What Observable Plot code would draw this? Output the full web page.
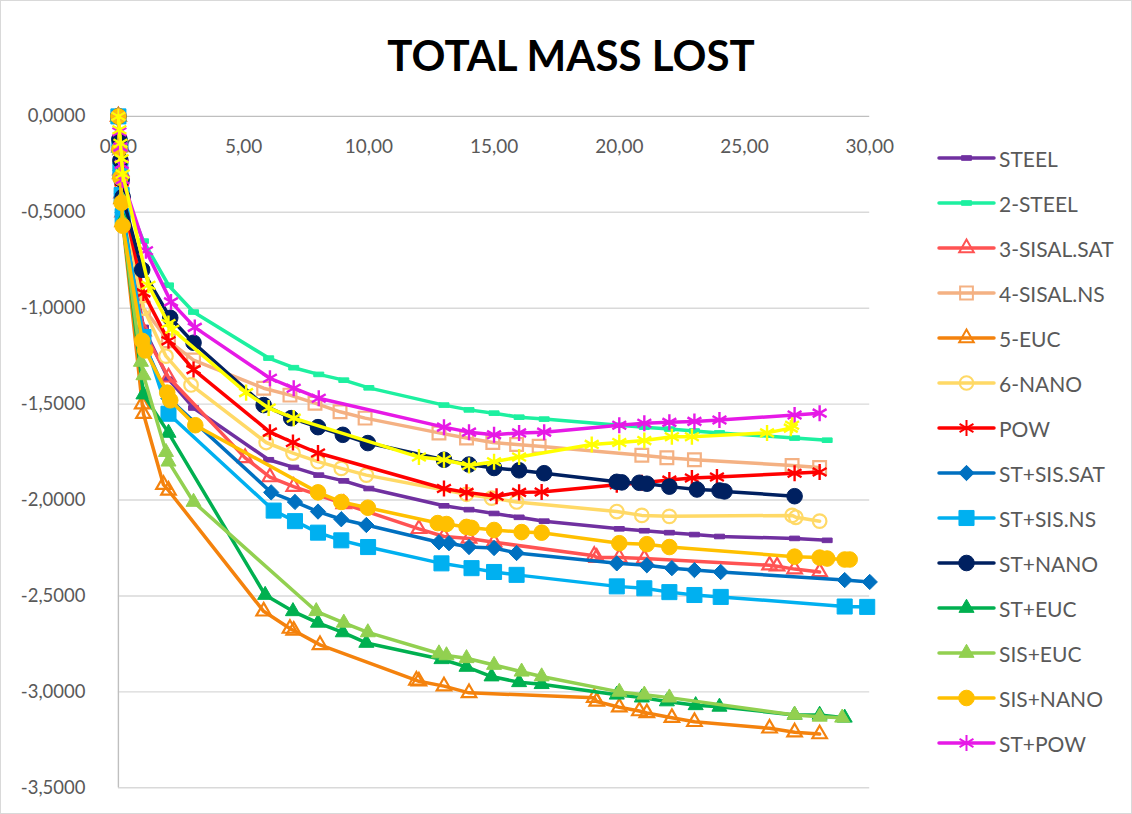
<!DOCTYPE html>
<html>
<head>
<meta charset="utf-8">
<script src="https://cdn.jsdelivr.net/npm/d3@7"></script>
<script src="https://cdn.jsdelivr.net/npm/@observablehq/plot@0.6"></script>
<style>
  body { margin: 0; background: #fff; }
  #chart { position: relative; width: 1132px; height: 814px; box-sizing: border-box; border: 1px solid #d9d9d9; overflow: hidden; font-family: Lato, sans-serif; background: #fff; }
  #title { position: absolute; left: 0; width: 1140px; top: 33px; text-align: center; font-weight: bold; font-size: 42px; line-height: 42px; color: #000; }
  #plot { position: absolute; left: -1px; top: -1px; }
  .lg { position: absolute; left: 935px; height: 30px; display: flex; align-items: center; }
  .lg span { font-size: 21px; color: #595959; margin-left: 1px; white-space: nowrap; }
</style>
</head>
<body>
<div id="chart">
  <div id="plot"></div>
  <div id="title">TOTAL MASS LOST</div>
</div>
<script>
// ---------- DATA (x = days, y = mass lost) ----------
const xTicks = [0, 5, 10, 15, 20, 25, 30];
const yTicks = [0, -0.5, -1, -1.5, -2, -2.5, -3, -3.5];

const STEEL = [[0,0],[0.04,-0.15],[0.08,-0.28],[0.13,-0.4],[0.17,-0.5],[1,-1.1],[2,-1.37],[3,-1.52],[6,-1.79],[7,-1.83],[8,-1.87],[9,-1.9],[10,-1.94],[13,-2.03],[14,-2.05],[15,-2.07],[16,-2.09],[17,-2.11],[20,-2.15],[21,-2.16],[22,-2.17],[23,-2.18],[24,-2.19],[27,-2.2],[28.3,-2.21]];
const STEEL2 = [[0,0],[0.04,-0.1],[0.08,-0.2],[0.13,-0.3],[0.17,-0.38],[1,-0.65],[2,-0.88],[3,-1.02],[6,-1.26],[7,-1.31],[8,-1.345],[9,-1.375],[10,-1.415],[13,-1.505],[14,-1.53],[15,-1.547],[16,-1.568],[17,-1.578],[20,-1.61],[21,-1.62],[22,-1.63],[23,-1.64],[24,-1.65],[27,-1.677],[28.3,-1.688]];
const SISAL_SAT = [[0,0],[0.04,-0.15],[0.08,-0.28],[0.13,-0.4],[0.17,-0.5],[1,-1.12],[2,-1.36],[5.06,-1.78],[6.05,-1.88],[7,-1.93],[9,-2.02],[12,-2.15],[13,-2.19],[14,-2.2],[15,-2.22],[19,-2.29],[19.1,-2.3],[20,-2.3],[21,-2.305],[26,-2.34],[26.3,-2.345],[27,-2.36],[28,-2.375]];
const SISAL_NS = [[0,0],[0.04,-0.14],[0.08,-0.26],[0.13,-0.38],[0.17,-0.47],[1,-1.0],[2,-1.17],[3,-1.27],[5.8,-1.417],[6.85,-1.453],[7.85,-1.495],[8.85,-1.54],[9.85,-1.573],[12.8,-1.65],[13.9,-1.677],[14.95,-1.7],[15.9,-1.71],[16.8,-1.72],[20.9,-1.766],[21.9,-1.78],[23,-1.79],[26.9,-1.82],[28,-1.83]];
const EUC = [[0,0],[0.04,-0.16],[0.08,-0.3],[0.13,-0.43],[0.17,-0.55],[0.95,-1.5],[1,-1.55],[1.8,-1.92],[2,-1.95],[5.8,-2.58],[6.85,-2.67],[7,-2.68],[8.05,-2.755],[11.9,-2.94],[12,-2.945],[13,-2.97],[14,-3.005],[19,-3.03],[19.1,-3.05],[20,-3.08],[20.8,-3.1],[21.1,-3.11],[22.1,-3.135],[23,-3.156],[26,-3.19],[27,-3.21],[28,-3.22]];
const NANO = [[0,0],[0.04,-0.14],[0.08,-0.27],[0.13,-0.39],[0.17,-0.49],[1,-1.0],[1.9,-1.25],[2.9,-1.4],[5.9,-1.7],[6.97,-1.755],[7.97,-1.8],[8.9,-1.835],[9.9,-1.87],[13.9,-1.97],[14.9,-1.99],[15.9,-2.01],[19.9,-2.06],[20.9,-2.08],[22,-2.085],[26.9,-2.08],[27.05,-2.09],[28,-2.11]];
const POW = [[0,0],[0.04,-0.12],[0.08,-0.23],[0.13,-0.34],[0.17,-0.43],[1,-0.92],[2,-1.17],[3,-1.32],[6.05,-1.646],[6.97,-1.7],[7.97,-1.755],[13,-1.94],[13.9,-1.96],[15.1,-1.98],[16,-1.96],[16.9,-1.958],[19.9,-1.92],[20.9,-1.91],[22,-1.896],[22.9,-1.885],[23.9,-1.88],[27,-1.86],[28,-1.854]];
const ST_SIS_SAT = [[0,0],[0.04,-0.15],[0.08,-0.28],[0.13,-0.4],[0.17,-0.5],[1,-1.18],[2,-1.47],[6.1,-1.96],[7.05,-2.01],[7.97,-2.06],[8.9,-2.1],[9.9,-2.13],[12.8,-2.22],[13.2,-2.225],[14,-2.245],[15,-2.25],[15.9,-2.276],[19.9,-2.33],[21.1,-2.34],[22.1,-2.355],[23,-2.365],[24.05,-2.375],[29,-2.417],[30,-2.427]];
const ST_SIS_NS = [[0,0],[0.04,-0.15],[0.08,-0.28],[0.13,-0.41],[0.17,-0.52],[1,-1.15],[2,-1.55],[6.2,-2.055],[7.05,-2.11],[7.97,-2.17],[8.9,-2.21],[9.97,-2.245],[12.9,-2.33],[14.1,-2.355],[15,-2.375],[15.9,-2.39],[19.9,-2.45],[21,-2.46],[22,-2.48],[23,-2.495],[24.05,-2.505],[29,-2.555],[29.9,-2.557]];
const ST_NANO = [[0,0],[0.04,-0.12],[0.08,-0.23],[0.13,-0.33],[0.17,-0.42],[0.95,-0.8],[2.07,-1.05],[3,-1.18],[5.8,-1.505],[6.9,-1.573],[7.97,-1.62],[8.96,-1.66],[9.96,-1.703],[13,-1.79],[14,-1.815],[15,-1.833],[16,-1.845],[17,-1.86],[19.9,-1.905],[20.1,-1.908],[20.8,-1.91],[21.1,-1.915],[22,-1.93],[23.1,-1.945],[24,-1.95],[24.2,-1.955],[27,-1.98]];
const ST_EUC = [[0,0],[0.04,-0.16],[0.08,-0.3],[0.13,-0.43],[0.17,-0.54],[1,-1.45],[2,-1.65],[5.86,-2.495],[6.97,-2.58],[7.97,-2.64],[8.96,-2.69],[9.9,-2.745],[12.9,-2.83],[13.9,-2.87],[14.9,-2.92],[16,-2.95],[16.9,-2.96],[19.9,-3.015],[20.9,-3.03],[21.9,-3.05],[23.05,-3.07],[24,-3.078],[27,-3.12],[28,-3.12],[29,-3.135]];
const SIS_EUC = [[0,0],[0.04,-0.16],[0.08,-0.3],[0.13,-0.43],[0.17,-0.55],[0.9,-1.28],[1,-1.35],[1.9,-1.75],[2,-1.8],[3,-2.01],[7.9,-2.58],[9,-2.64],[9.96,-2.69],[12.8,-2.8],[13.1,-2.81],[13.9,-2.825],[15,-2.86],[16.1,-2.895],[16.9,-2.92],[20,-3.0],[21,-3.015],[22,-3.03],[27,-3.12],[28,-3.13],[28.9,-3.135]];
const SIS_NANO = [[0,0],[0.04,-0.17],[0.08,-0.32],[0.13,-0.45],[0.17,-0.57],[0.95,-1.17],[1.07,-1.22],[1.95,-1.44],[2.07,-1.48],[3.07,-1.61],[7.97,-1.96],[8.9,-2.01],[9.96,-2.04],[12.75,-2.12],[13.1,-2.125],[13.9,-2.14],[14.1,-2.145],[15,-2.156],[16.1,-2.167],[16.9,-2.17],[20,-2.225],[21.1,-2.23],[22,-2.245],[27,-2.295],[28,-2.3],[28.3,-2.305],[29,-2.31],[29.2,-2.31]];
const ST_POW = [[0,0],[0.04,-0.08],[0.08,-0.16],[0.13,-0.25],[0.17,-0.33],[1.1,-0.7],[2.1,-0.967],[3.05,-1.1],[6.05,-1.365],[7,-1.417],[8,-1.469],[13,-1.62],[14,-1.646],[15,-1.66],[16,-1.65],[17,-1.646],[20,-1.61],[21,-1.6],[22,-1.595],[23,-1.59],[24,-1.583],[27,-1.557],[28,-1.547]];
const SERIES_15 = [[0,0],[0.04,-0.07],[0.08,-0.14],[0.13,-0.22],[0.17,-0.3],[1.2,-0.88],[2,-1.08],[2.15,-1.11],[5.1,-1.44],[6,-1.52],[7,-1.573],[12,-1.776],[13,-1.79],[14,-1.82],[15,-1.8],[16,-1.776],[18.9,-1.71],[20,-1.7],[21,-1.69],[22.1,-1.67],[22.9,-1.67],[25.9,-1.65],[26.85,-1.625],[26.9,-1.61]];

const seriesNames = ["STEEL","2-STEEL","3-SISAL.SAT","4-SISAL.NS","5-EUC","6-NANO","POW","ST+SIS.SAT","ST+SIS.NS","ST+NANO","ST+EUC","SIS+EUC","SIS+NANO","ST+POW","Series15"];
const seriesValues = [STEEL, STEEL2, SISAL_SAT, SISAL_NS, EUC, NANO, POW, ST_SIS_SAT, ST_SIS_NS, ST_NANO, ST_EUC, SIS_EUC, SIS_NANO, ST_POW, SERIES_15];
const legendNames = seriesNames.slice(0, 14);

// ---------- STYLES ----------
const dash = { draw(ctx, size) { const w = 5, h = 2.3; ctx.moveTo(-w, -h); ctx.lineTo(w, -h); ctx.lineTo(w, h); ctx.lineTo(-w, h); ctx.closePath(); } };
const styles = {
  "STEEL":       { color: "#7030A0", symbol: dash, r: 4, filled: true },
  "2-STEEL":     { color: "#1DF0A0", symbol: dash, r: 4, filled: true },
  "3-SISAL.SAT": { color: "#FF5353", symbol: "triangle", r: 5.4, filled: false },
  "4-SISAL.NS":  { color: "#F4B183", symbol: "square", r: 7.2, filled: false },
  "5-EUC":       { color: "#F4820D", symbol: "triangle", r: 5.4, filled: false },
  "6-NANO":      { color: "#FFD966", symbol: "circle", r: 6.8, filled: false },
  "POW":         { color: "#FF0000", symbol: "asterisk", r: 7.6, filled: false },
  "ST+SIS.SAT":  { color: "#0070C0", symbol: "diamond2", r: 6.9, filled: true },
  "ST+SIS.NS":   { color: "#00B0F0", symbol: "square", r: 8.5, filled: true },
  "ST+NANO":     { color: "#002060", symbol: "circle", r: 7.8, filled: true },
  "ST+EUC":      { color: "#00B050", symbol: "triangle", r: 5.6, filled: true },
  "SIS+EUC":     { color: "#92D050", symbol: "triangle", r: 5.6, filled: true },
  "SIS+NANO":    { color: "#FFC000", symbol: "circle", r: 7.8, filled: true },
  "ST+POW":      { color: "#E619E6", symbol: "asterisk", r: 7.6, filled: false },
  "Series15":    { color: "#FFFF00", symbol: "asterisk", r: 7.6, filled: false }
};

const table = seriesNames.flatMap((name, i) => seriesValues[i].map(([x, y]) => ({ series: name, x, y })));

const fmtY = d => d3.format(".4f")(d).replace("\u2212", "-").replace(".", ",");
const fmtX = d => d3.format(".2f")(d).replace(".", ",");

const seriesMarks = seriesNames.flatMap(name => {
  const st = styles[name];
  const data = table.filter(d => d.series === name);
  return [
    Plot.line(data, { x: "x", y: "y", stroke: st.color, strokeWidth: 3.5, strokeLinejoin: "round", strokeLinecap: "round" }),
    Plot.dot(data, {
      x: "x", y: "y", symbol: st.symbol, r: st.r,
      fill: st.filled ? st.color : "none",
      stroke: st.color,
      strokeWidth: st.filled ? 1 : (st.symbol === "asterisk" ? 2.4 : 2.2)
    })
  ];
});

const chart = Plot.plot({
  width: 1132, height: 814,
  marginLeft: 118, marginRight: 262, marginTop: 116, marginBottom: 26,
  x: { domain: [0, 30], axis: null },
  y: { domain: [-3.5, 0], axis: null },
  style: { fontFamily: "Lato, sans-serif", background: "transparent", overflow: "visible" },
  marks: [
    Plot.gridY(yTicks.filter(d => d !== 0), { stroke: "#d9d9d9", strokeOpacity: 1, strokeWidth: 1.4 }),
    Plot.ruleY([0], { stroke: "#bfbfbf", strokeWidth: 1.4 }),
    Plot.ruleX([0], { stroke: "#bfbfbf", strokeWidth: 1.4 }),
    Plot.text(yTicks, { y: d => d, frameAnchor: "left", dx: -33, textAnchor: "end", text: fmtY, fontSize: 18.5, fill: "#595959" }),
    Plot.text(xTicks, { x: d => d, y: 0, dy: 31, text: fmtX, fontSize: 19, fill: "#595959" }),
    ...seriesMarks
  ]
});
document.getElementById("plot").append(chart);

// ---------- LEGEND ----------
const symbolTypes = { triangle: d3.symbolTriangle, square: d3.symbolSquare, circle: d3.symbolCircle, diamond2: d3.symbolDiamond2, asterisk: d3.symbolAsterisk };
const chartDiv = document.getElementById("chart");
legendNames.forEach((name, i) => {
  const st = styles[name];
  const row = document.createElement("div");
  row.className = "lg";
  row.style.top = (158 + 45 * i - 15 - 1) + "px";
  const svg = d3.create("svg").attr("width", 62).attr("height", 30);
  svg.append("line").attr("x1", 3).attr("x2", 58).attr("y1", 15).attr("y2", 15)
    .attr("stroke", st.color).attr("stroke-width", 3.5).attr("stroke-linecap", "round");
  const type = typeof st.symbol === "string" ? symbolTypes[st.symbol] : st.symbol;
  svg.append("path").attr("transform", "translate(30.5,15)")
    .attr("d", d3.symbol(type, Math.PI * st.r * st.r)())
    .attr("fill", st.filled ? st.color : "none")
    .attr("stroke", st.color)
    .attr("stroke-width", st.filled ? 1 : 2);
  row.append(svg.node());
  const t = document.createElement("span");
  t.textContent = name;
  row.append(t);
  chartDiv.append(row);
});
</script>
</body>
</html>
